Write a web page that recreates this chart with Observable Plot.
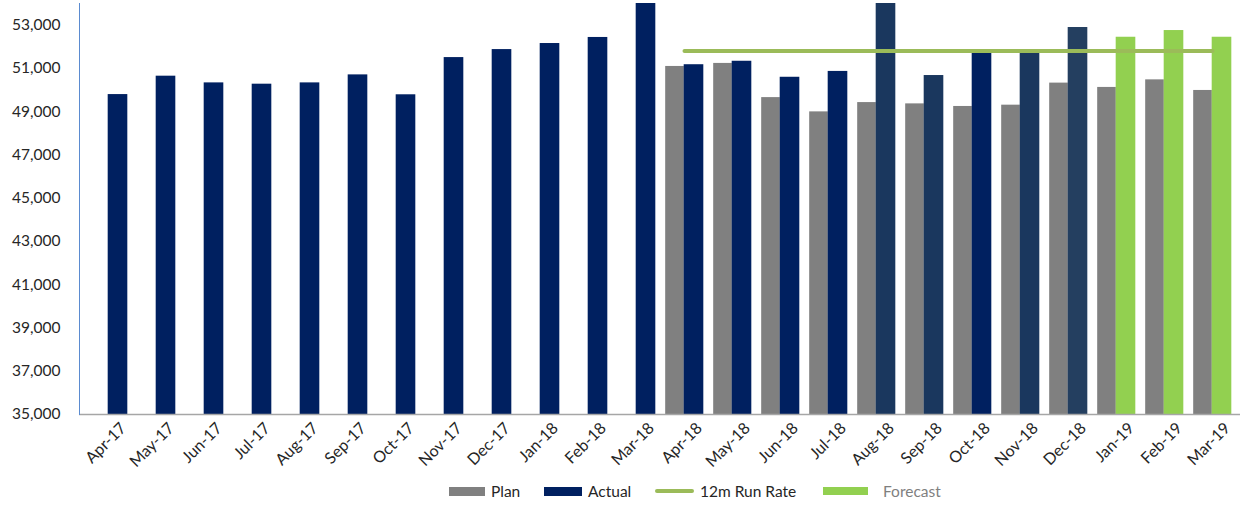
<!DOCTYPE html>
<html>
<head>
<meta charset="utf-8">
<script src="https://cdn.jsdelivr.net/npm/d3@7"></script>
<script src="https://cdn.jsdelivr.net/npm/@observablehq/plot@0.6"></script>
<style>
  html, body { margin: 0; padding: 0; background: #fff; }
  #wrap { position: relative; width: 1250px; height: 512px; font-family: Lato, "Open Sans", sans-serif; }
  #legend { position: absolute; left: 0; top: 470px; width: 1250px; height: 42px; font-size: 15.5px; color: #262626; }
  .item { position: absolute; top: 0; height: 42px; display: flex; align-items: center; }
  .sw { display: inline-block; margin-right: 6px; }
</style>
</head>
<body>
<div id="wrap">
  <div id="chart"></div>
  <div id="legend">
    <div class="item" style="left:449px"><span class="sw" style="width:36px;height:9px;background:#808080"></span>Plan</div>
    <div class="item" style="left:544px"><span class="sw" style="width:38px;height:9px;background:#002060"></span>Actual</div>
    <div class="item" style="left:655px"><span class="sw" style="width:39px;height:4px;background:#9bbb59;border-radius:2px"></span>12m Run Rate</div>
    <div class="item" style="left:823px;color:#7f7f7f"><span class="sw" style="width:45px;height:8px;background:#92d050;margin-right:15px"></span>Forecast</div>
  </div>
</div>
<script>
const months = ["Apr-17","May-17","Jun-17","Jul-17","Aug-17","Sep-17","Oct-17","Nov-17","Dec-17","Jan-18","Feb-18","Mar-18",
                "Apr-18","May-18","Jun-18","Jul-18","Aug-18","Sep-18","Oct-18","Nov-18","Dec-18","Jan-19","Feb-19","Mar-19"];
const plan = [null,null,null,null,null,null,null,null,null,null,null,null,
              51090,51230,49650,48990,49420,49360,49240,49300,50320,50120,50470,49980];
const actual = [49790,50640,50330,50270,50330,50700,49780,51500,51870,52150,52430,54500,
                51170,51330,50590,50860,54500,50670,51760,51760,52890,null,null,null];
const forecast = [null,null,null,null,null,null,null,null,null,null,null,null,
                  null,null,null,null,null,null,null,null,null,52440,52750,52440];
const runRateMonths = ["Apr-18","May-18","Jun-18","Jul-18","Aug-18","Sep-18","Oct-18","Nov-18","Dec-18","Jan-19","Feb-19","Mar-19"];
const runRate = [51800,51800,51800,51800,51800,51800,51800,51800,51800,51800,51800,51800];
const yTicks = [35000,37000,39000,41000,43000,45000,47000,49000,51000,53000];
const yMin = 35000, yMax = 54000;

const rows = months.map((m, i) => ({month: m, plan: plan[i], actual: actual[i], forecast: forecast[i]}));
const rr = runRateMonths.map((m, i) => ({month: m, value: runRate[i]}));

// styling
const W = 1250, H = 470, mL = 79, mR = 10;
const bw = (W - mL - mR) / months.length;
const barW = 19;
const shadeB = new Set(["Aug-18","Sep-18","Nov-18"]);
const shadeC = new Set(["Dec-18"]);
const actualFill = d => shadeC.has(d.month) ? "#243f60" : shadeB.has(d.month) ? "#1a375e" : "#002060";

const chart = Plot.plot({
  width: W, height: H,
  marginLeft: mL, marginRight: mR, marginTop: 3, marginBottom: H - 414,
  style: {fontFamily: "Lato, 'Open Sans', sans-serif", fontSize: "15px", color: "#262626", background: "#fff"},
  x: {type: "band", domain: months, padding: 0, label: null},
  y: {domain: [yMin, yMax], label: null},
  marks: [
    Plot.barY(rows.filter(d => d.plan != null), {x: "month", y1: () => yMin, y2: "plan", fill: "#808080",
      insetLeft: bw / 2 - barW, insetRight: bw / 2}),
    Plot.barY(rows.filter(d => d.actual != null), {x: "month", y1: () => yMin, y2: "actual", fill: actualFill,
      insetLeft: bw / 2 - 0.5, insetRight: bw / 2 - barW - 0.5, clip: true}),
    Plot.barY(rows.filter(d => d.forecast != null), {x: "month", y1: () => yMin, y2: "forecast", fill: "#92d050",
      insetLeft: bw / 2 - 0.5, insetRight: bw / 2 - barW - 0.5}),
    Plot.lineY(rr, {x: "month", y: "value", stroke: "#9bbb59", strokeWidth: 4, strokeLinecap: "round"}),
    Plot.ruleY([yMin], {stroke: "#a6a6a6", strokeWidth: 1.5}),
    Plot.frame({anchor: "left", stroke: "#5b8bd0", strokeWidth: 1}),
    Plot.axisY({ticks: yTicks, tickSize: 0, tickPadding: 19, tickFormat: d3.format(","), label: null, fontSize: 15.5}),
    Plot.axisX({tickSize: 0, tickPadding: 8, tickRotate: -45, label: null, fontSize: 16, dx: 15, dy: 3})
  ]
});
document.getElementById("chart").appendChild(chart);
</script>
</body>
</html>
